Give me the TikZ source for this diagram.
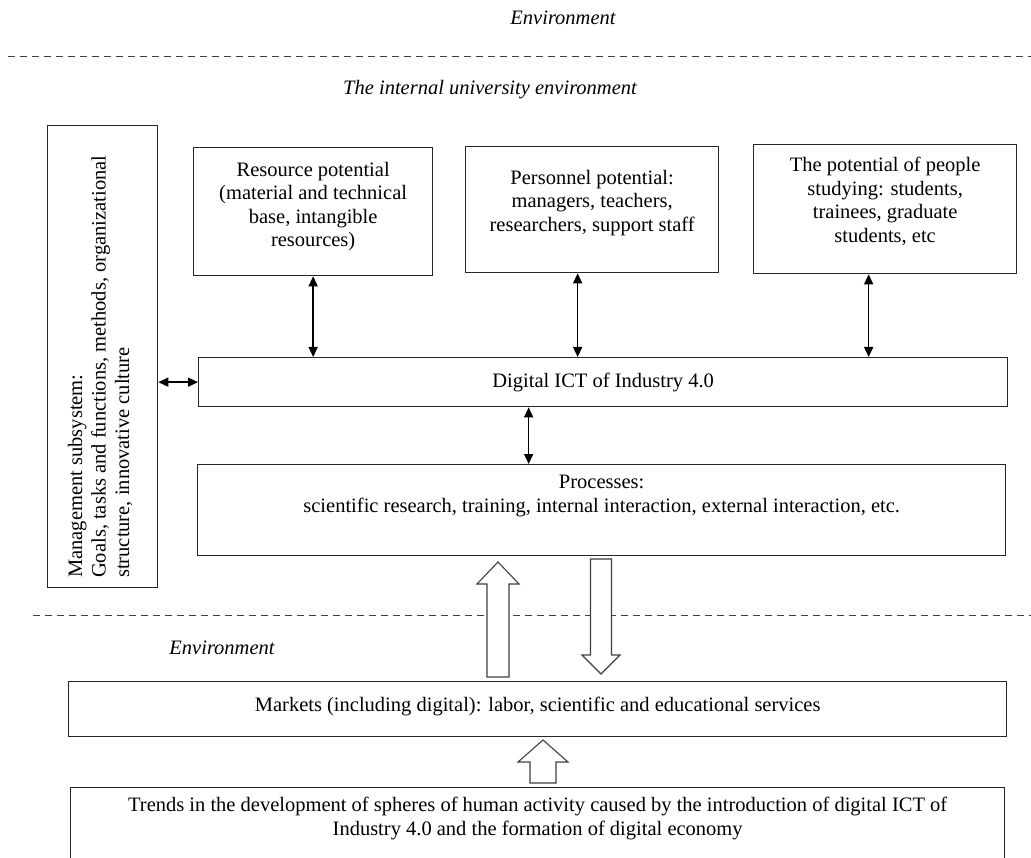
\documentclass[tikz,border=0pt]{standalone}
\usepackage{fontspec}
\setmainfont{Liberation Serif}
\usetikzlibrary{arrows.meta,calc}
\begin{document}
\begin{tikzpicture}[x=1pt,y=-1pt,
  every node/.style={font=\fontsize{20.5}{23.5}\selectfont, inner sep=0pt},
  box/.style={draw=black!85, line width=1.3pt, rectangle, anchor=north west},
  lbl/.style={align=center},
  envlbl/.style={font=\fontsize{20.5}{23.5}\selectfont\itshape},
  conn/.style={{Triangle[length=10pt,width=9pt]}-{Triangle[length=10pt,width=9pt]}, line width=1.4pt},
  sep/.style={dash pattern=on 7pt off 5pt, line width=1pt, black!75},
  blockarrow/.style={draw=black!75, line width=1.1pt, fill=white}
]
\useasboundingbox (0,0) rectangle (1031,858);
\fill[white] (0,0) rectangle (1031,858);

% environment labels and separators
\node[envlbl] (envtop) at (563,18) {Environment};
\coordinate (d1a) at (8,57);
\coordinate (d1b) at (1031,57);
\draw[sep] (d1a) -- (d1b);
\node[envlbl] (internal) at (490,90) {The internal university environment};

% boxes
\node[box, minimum width=110pt, minimum height=462pt] (mgmt) at (47,125) {};
\node[rotate=90, anchor=west, align=left] (mgmttext) at (100,578)
  {Management subsystem:\\Goals, tasks and functions, methods, organizational\\structure, innovative culture};

\node[box, minimum width=239pt, minimum height=128pt] (res) at (193,147) {};
\node[lbl, anchor=north] (restext) at ($(res.north)+(0,15)$)
  {Resource potential\\(material and technical\\base, intangible\\resources)};

\node[box, minimum width=253pt, minimum height=126pt] (per) at (465,146) {};
\node[lbl, anchor=north] (pertext) at ($(per.north)+(0,24)$)
  {Personnel potential:\\managers, teachers,\\researchers, support staff};

\node[box, minimum width=263pt, minimum height=129pt] (peo) at (753,144) {};
\node[lbl, anchor=north] (peotext) at ($(peo.north)+(0,13)$)
  {The potential of people\\studying: students,\\trainees, graduate\\students, etc};

\node[box, minimum width=809pt, minimum height=49pt] (dig) at (198,357) {};
\node[lbl] (digtext) at ($(dig.center)+(0,0)$) {Digital ICT of Industry 4.0};

\node[box, minimum width=808pt, minimum height=91pt] (proc) at (197,464) {};
\node[lbl, anchor=north] (proctext) at ($(proc.north)+(0,11)$)
  {Processes:\\scientific research, training, internal interaction, external interaction, etc.};

% lower separator
\coordinate (d2a) at (33,615);
\coordinate (d2b) at (1031,615);
\draw[sep] (d2a) -- (d2b);
\node[envlbl] (envlow) at (222,648) {Environment};

\node[box, minimum width=938pt, minimum height=55pt] (mkt) at (68,681) {};
\node[lbl] (mkttext) at ($(mkt.center)+(0,-3)$)
  {Markets (including digital): labor, scientific and educational services};

\node[box, minimum width=934pt, minimum height=80pt] (trd) at (70,787) {};
\node[lbl, anchor=north] (trdtext) at ($(trd.north)+(0,10)$)
  {Trends in the development of spheres of human activity caused by the introduction of digital ICT of\\Industry 4.0 and the formation of digital economy};

% connectors
\draw[conn] (res.south) -- (res.south |- dig.north);
\draw[conn] ([xshift=-14.5pt]per.south) -- ([xshift=-14.5pt]per.south |- dig.north);
\draw[conn] ([xshift=-16.5pt]peo.south) -- ([xshift=-16.5pt]peo.south |- dig.north);
\draw[conn] ([xshift=-74.5pt]dig.south) -- ([xshift=-74.5pt]dig.south |- proc.north);
\draw[conn] (mgmt.east |- dig.west) -- (dig.west);

% block arrows
\draw[blockarrow] (487,677) -- (487,584) -- (477,584) -- (498,562) -- (519,584) -- (509,584) -- (509,677) -- cycle;
\draw[blockarrow] (590.5,559) -- (611.5,559) -- (611.5,655) -- (620,655) -- (601,674) -- (582,655) -- (590.5,655) -- cycle;
\draw[blockarrow] (530,783) -- (530,762) -- (518,762) -- (543,740) -- (568,762) -- (556,762) -- (556,783) -- cycle;
\end{tikzpicture}
\end{document}
